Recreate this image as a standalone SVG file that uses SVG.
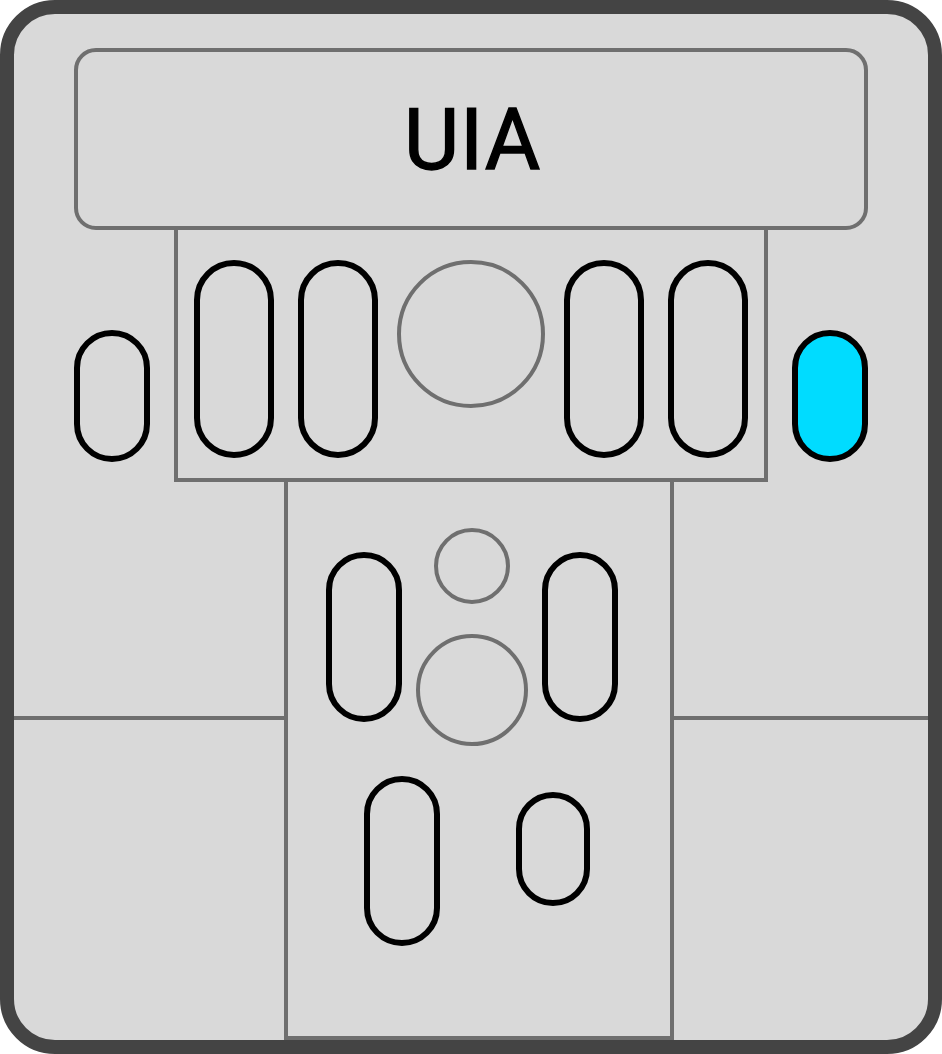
<svg xmlns="http://www.w3.org/2000/svg" width="942" height="1054" viewBox="0 0 942 1054">
<style>
.g{fill:#d9d9d9;stroke:#6f6f6f;stroke-width:4}
.p{fill:#d9d9d9;stroke:#000;stroke-width:6}
.l{fill:none;stroke:#6f6f6f;stroke-width:4}
</style>
<rect id="frame" x="7" y="7" width="928" height="1040" rx="48" fill="#d9d9d9" stroke="#444" stroke-width="14"/>
<g id="connectors"><path class="l" d="M14 718H286M672 718H928"/></g>
<g id="panel-upper"><rect class="g" x="176" y="228" width="590" height="252"/></g>
<g id="panel-lower"><rect class="g" x="286" y="480" width="386" height="558"/></g>
<g id="header"><rect class="g" x="76" y="50" width="790" height="178" rx="20"/>
<text x="472.500" y="168.500" text-anchor="middle" font-family="Roboto,sans-serif" font-size="85" letter-spacing="0.800" stroke="#000" stroke-width="1.400">UIA</text></g>
<g id="pill-left"><rect class="p" x="77" y="333" width="70" height="126" rx="35"/></g>
<g id="pill-right"><rect class="p" style="fill:#00dcff" x="795" y="333" width="70" height="126" rx="35"/></g>
<g id="pill-u1"><rect class="p" x="197" y="263" width="74" height="192" rx="37"/></g>
<g id="pill-u2"><rect class="p" x="301" y="263" width="74" height="192" rx="37"/></g>
<g id="pill-u3"><rect class="p" x="567" y="263" width="74" height="192" rx="37"/></g>
<g id="pill-u4"><rect class="p" x="671" y="263" width="74" height="192" rx="37"/></g>
<g id="circle-u"><circle class="g" cx="471" cy="334" r="72"/></g>
<g id="pill-l1"><rect class="p" x="329" y="555" width="70" height="164" rx="35"/></g>
<g id="pill-l2"><rect class="p" x="545" y="555" width="70" height="164" rx="35"/></g>
<g id="pill-l3"><rect class="p" x="367" y="779" width="70" height="164" rx="35"/></g>
<g id="pill-l4"><rect class="p" x="519" y="795" width="68" height="108" rx="34"/></g>
<g id="circle-l1"><circle class="g" cx="472" cy="566" r="36"/></g>
<g id="circle-l2"><circle class="g" cx="472" cy="690" r="54"/></g>
</svg>
